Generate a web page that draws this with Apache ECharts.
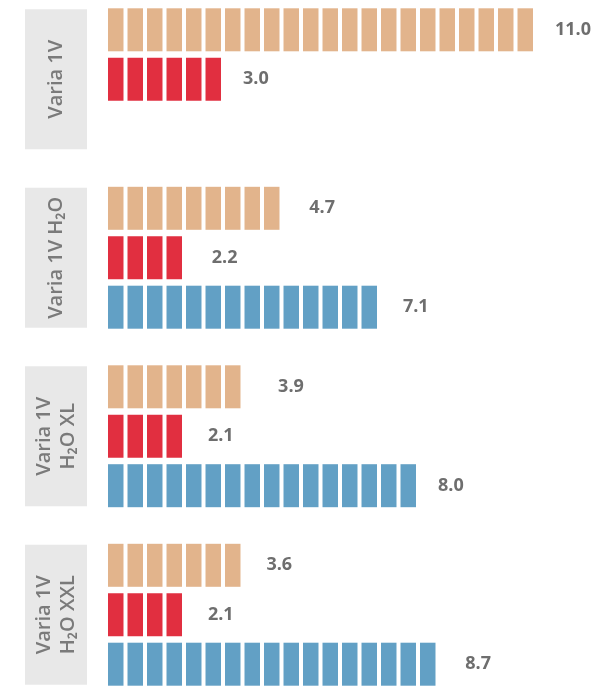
<!DOCTYPE html>
<html>
<head>
<meta charset="utf-8">
<title>Varia 1V</title>
<script src="https://cdn.jsdelivr.net/npm/echarts@6/dist/echarts.min.js"></script>
<style>
  html, body { margin: 0; padding: 0; background: #fff; }
  #chart { width: 610px; height: 686px; }
</style>
</head>
<body>
<div id="chart"></div>
<script>
  // categories (top to bottom) and values per colour
  const groups = ['Varia 1V', 'Varia 1V H₂O', 'Varia 1V\nH₂O XL', 'Varia 1V\nH₂O XXL'];
  const tanValues = [11.0, 4.7, 3.9, 3.6];
  const redValues = [3.0, 2.2, 2.1, 2.1];
  const blueValues = [null, 7.1, 8.0, 8.7];

  const BLOCK = 0.5; // one block in the bar = 0.5 units
  const TEXT = '#6e6e6e';

  // whole blocks only: a bar shows floor(value / BLOCK) blocks
  function toItems(values) {
    return values.map(v => {
      if (v == null) return '-';
      const n = Math.floor(v / BLOCK + 1e-9);
      return { value: v, symbolRepeat: n, symbolBoundingData: n * BLOCK };
    });
  }

  function groupLabel(name) {
    const lines = name.split('\n');
    if (lines.length === 1) return `{one|${name}}`;
    return ['{sp| }', ...lines.map(l => `{two|${l}}`), '{sp| }'].join('\n');
  }

  function series(name, color, values) {
    return {
      name,
      type: 'pictorialBar',
      symbol: 'rect',
      symbolSize: [15.5, '100%'],
      symbolMargin: '10%!',
      barWidth: 43,
      barGap: '15%',
      itemStyle: { color },
      label: {
        show: true,
        position: 'right',
        distance: 20,
        color: TEXT,
        fontFamily: 'Open Sans, sans-serif',
        fontWeight: 'bold',
        fontSize: 18,
        formatter: p => p.value.toFixed(1)
      },
      data: toItems(values)
    };
  }

  const chart = echarts.init(document.getElementById('chart'));
  chart.setOption({
    backgroundColor: '#fff',
    animation: false,
    grid: { left: 106, right: 16.5, top: -10, height: 714, containLabel: false, outerBoundsMode: 'none' },
    xAxis: { type: 'value', min: 0, max: 12.5, show: false },
    yAxis: {
      type: 'category',
      inverse: true,
      data: groups,
      axisLine: { show: false },
      axisTick: { show: false },
      splitLine: { show: false },
      axisLabel: {
        interval: 0,
        rotate: 90,
        margin: 19,
        width: 140,
        backgroundColor: '#e8e8e8',
        formatter: groupLabel,
        rich: {
          one: { fontSize: 20, lineHeight: 62, fontWeight: 600, color: '#7a7a7a', fontFamily: 'Open Sans, sans-serif' },
          two: { fontSize: 20, lineHeight: 24, fontWeight: 600, color: '#7a7a7a', fontFamily: 'Open Sans, sans-serif' },
          sp: { fontSize: 1, lineHeight: 7 }
        }
      }
    },
    series: [
      series('tan', '#e2b48c', tanValues),
      series('red', '#e12f40', redValues),
      series('blue', '#62a0c5', blueValues)
    ]
  });
</script>
</body>
</html>
